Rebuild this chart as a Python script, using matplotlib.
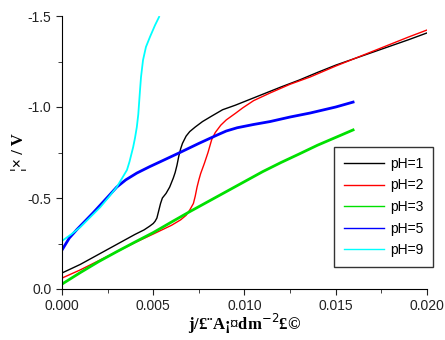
import numpy as np
import matplotlib.pyplot as plt
from matplotlib.ticker import MultipleLocator, FormatStrFormatter

# pH=1
x1 = [0, 0.001, 0.002, 0.003, 0.004, 0.0045, 0.0048, 0.005, 0.0051, 0.0052, 0.0053, 0.0054,
      0.0055, 0.0057, 0.0059, 0.0061, 0.0062, 0.0063, 0.0064, 0.0065, 0.0066, 0.0068, 0.007,
      0.0073, 0.0077, 0.0082, 0.0088, 0.0095, 0.010, 0.011, 0.012, 0.013, 0.014, 0.015,
      0.016, 0.017, 0.018, 0.019, 0.020]
y1 = [-0.088, -0.135, -0.19, -0.245, -0.30, -0.325, -0.345, -0.36, -0.372, -0.39, -0.43, -0.47,
      -0.50, -0.525, -0.56, -0.61, -0.64, -0.68, -0.73, -0.77, -0.80, -0.84, -0.865,
      -0.89, -0.92, -0.95, -0.985, -1.01, -1.03, -1.07, -1.11, -1.148, -1.19, -1.23,
      -1.265, -1.30, -1.335, -1.37, -1.407]
# pH=2
x2 = [0, 0.001, 0.002, 0.003, 0.004, 0.005, 0.006, 0.0065, 0.0068, 0.007, 0.0072, 0.0073,
      0.0074, 0.0075, 0.0076, 0.0078, 0.008, 0.0082, 0.0084, 0.0087, 0.009, 0.0095, 0.0099,
      0.0105, 0.0114, 0.0125, 0.0136, 0.015, 0.016, 0.017, 0.018, 0.019, 0.020]
y2 = [-0.06, -0.105, -0.155, -0.205, -0.255, -0.302, -0.35, -0.38, -0.405, -0.434, -0.47, -0.51,
      -0.56, -0.60, -0.635, -0.69, -0.75, -0.82, -0.86, -0.90, -0.929, -0.965, -0.995,
      -1.035, -1.077, -1.125, -1.165, -1.225, -1.265, -1.305, -1.345, -1.385, -1.423]
# pH=3
x3 = [0, 0.001, 0.002, 0.003, 0.004, 0.005, 0.006, 0.007, 0.008, 0.009, 0.010, 0.011,
      0.012, 0.013, 0.014, 0.015, 0.01595]
y3 = [-0.027, -0.09, -0.15, -0.205, -0.258, -0.31, -0.368, -0.425, -0.48, -0.535, -0.59, -0.645,
      -0.695, -0.742, -0.79, -0.833, -0.874]
# pH=5
x5 = [0, 0.0004, 0.0008, 0.0017, 0.0025, 0.003, 0.0035, 0.0041, 0.0048, 0.0054, 0.0064,
      0.0075, 0.0085, 0.009, 0.0096, 0.0105, 0.0114, 0.0125, 0.0136, 0.015, 0.01595]
y5 = [-0.214, -0.28, -0.325, -0.418, -0.505, -0.56, -0.60, -0.637, -0.672, -0.70, -0.747,
      -0.80, -0.846, -0.868, -0.886, -0.904, -0.92, -0.945, -0.967, -1.0, -1.027]
# pH=9
x9 = [0, 0.0005, 0.001, 0.0015, 0.0021, 0.0026, 0.003, 0.0033, 0.00356, 0.0037, 0.0038,
      0.0039, 0.004, 0.0041, 0.00418, 0.00423, 0.00428, 0.00433, 0.00444, 0.0046, 0.00482,
      0.0051, 0.00532]
y9 = [-0.264, -0.30, -0.34, -0.39, -0.45, -0.51, -0.56, -0.61, -0.654, -0.70, -0.74,
      -0.78, -0.83, -0.89, -0.96, -1.03, -1.10, -1.165, -1.258, -1.33, -1.385,
      -1.45, -1.495]

labels = ['pH=1', 'pH=2', 'pH=3', 'pH=5', 'pH=9']
colors = ['black', 'red', '#00e000', 'blue', 'cyan']
widths = [1.0, 1.0, 2.0, 2.0, 1.3]

plt.rcParams['font.family'] = ['Liberation Sans', 'DejaVu Sans']
fig = plt.figure(figsize=(4.45, 3.4), dpi=100)
ax = fig.add_axes([62/445, 1 - 289/340, 365/445, 273/340])

for xs, ys, c, w, lab in zip([x1, x2, x3, x5, x9], [y1, y2, y3, y5, y9], colors, widths, labels):
    ax.plot(xs, ys, color=c, lw=w, label=lab)

ax.set_xlim(0, 0.020)
ax.set_ylim(0, -1.5)
ax.xaxis.set_major_locator(MultipleLocator(0.005))
ax.xaxis.set_minor_locator(MultipleLocator(0.0025))
ax.yaxis.set_major_locator(MultipleLocator(0.5))
ax.yaxis.set_minor_locator(MultipleLocator(0.25))
ax.xaxis.set_major_formatter(FormatStrFormatter('%.3f'))
ax.yaxis.set_major_formatter(FormatStrFormatter('%.1f'))
ax.tick_params(which='both', direction='out', labelsize=10, colors='#222222')
ax.tick_params(which='major', length=4)
ax.tick_params(which='minor', length=3)
ax.spines['top'].set_visible(False)
ax.spines['right'].set_visible(False)

ax.set_xlabel('j/£¨A¡¤dm$^{-2}$£©', fontsize=12, fontweight='bold',
              family=['Liberation Serif', 'DejaVu Serif'])
ax.set_ylabel('¦× / V', fontsize=12, fontweight='bold',
              family=['Liberation Serif', 'DejaVu Serif'])
ax.xaxis.set_label_coords(0.5, -0.085)
ax.yaxis.set_label_coords(-0.096, 0.5)

leg = ax.legend(loc='lower right', bbox_to_anchor=(433/445, 1 - 267/340),
                bbox_transform=fig.transFigure, fontsize=10, frameon=True,
                fancybox=False, edgecolor='black', handlelength=2.9, borderpad=0.7,
                labelspacing=0.55, handletextpad=0.4, borderaxespad=0)
leg.get_frame().set_linewidth(1.0)
for h in leg.legend_handles:
    h.set_linewidth(1.0)

fig.savefig('out.png', dpi=100)
